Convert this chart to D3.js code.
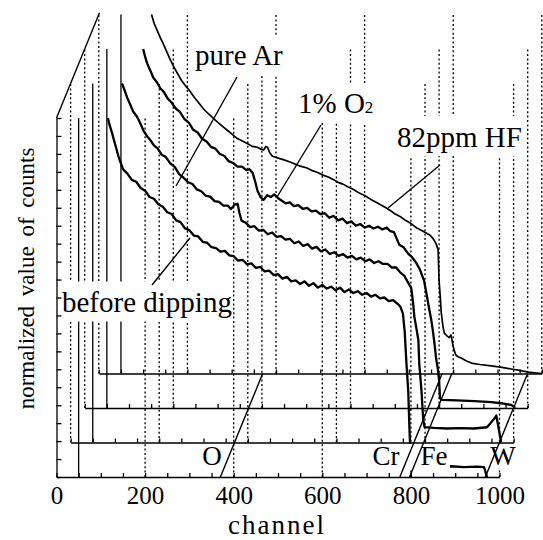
<!DOCTYPE html>
<html>
<head>
<meta charset="utf-8">
<script src="https://cdn.jsdelivr.net/npm/d3@7"></script>
<style>
  body { margin: 0; background: #fff; }
  text { font-family: "Liberation Serif", "Times New Roman", serif; fill: #000; }
</style>
</head>
<body>
<div id="chart"></div>
<script>
// Stacked RBS spectra, drawn as a waterfall of 4 offset frames

const width = 543;
const height = 540;

// tick / grid channels
const channelTicks = [0, 200, 400, 600, 800, 1000];
const gridChannels = [0, 200, 400, 600, 800, 1000];
const minorChannels = d3.range(0, 1001, 50);
const markerChannel = 50;

// element edges (channel)
const elementNames = ["O", "Cr", "Fe", "W"];
const elementChannels = [370, 775, 797, 968];

// spectra: [channel, normalized counts], front to back
const beforeDipping = [
  [116,20.0],[120,19.6],[125,19.2],[130,18.75],[135,18.3],[140,17.85],[145,17.5],[150,17.15],
  [160,16.9],[170,16.55],[180,16.45],[190,16.1],[200,15.95],[210,15.6],[220,15.5],[230,15.2],
  [240,15.05],[250,14.75],[260,14.65],[270,14.3],[280,14.2],[290,13.85],[300,13.75],[310,13.45],
  [320,13.4],[330,13.1],[340,13.05],[350,12.8],[360,12.75],[370,12.55],[380,12.6],[390,12.35],
  [400,12.3],[410,12.05],[420,12.1],[430,11.85],[440,11.9],[450,11.65],[460,11.7],[470,11.45],
  [480,11.5],[490,11.25],[500,11.3],[510,11.05],[520,11.15],[530,10.9],[540,10.95],[550,10.75],
  [560,10.9],[570,10.65],[580,10.8],[590,10.55],[600,10.7],[610,10.5],[620,10.6],[630,10.4],
  [640,10.55],[650,10.3],[660,10.45],[670,10.25],[680,10.35],[690,10.15],[700,10.25],[710,10.05],
  [720,10.15],[730,9.95],[740,10.0],[750,9.8],[760,9.85],[770,9.65],[776,9.5],[782,9.1],
  [786,8.1],[790,6.3],[794,4.8],[797,2.5],[800,0.8],[805,0.55],[830,0.6],[860,0.55],
  [890,0.6],[920,0.55],[950,0.58],[965,0.55],[972,0.0]
];

const pureAr = [
  [116,20.0],[120,19.75],[128,19.2],[135,18.8],[141,18.45],[150,18.15],[157,17.8],[165,17.35],
  [173,17.05],[180,16.85],[188,16.55],[196,16.4],[205,16.05],[215,15.9],[225,15.55],[235,15.35],
  [245,14.95],[255,14.75],[265,14.5],[275,14.4],[285,14.1],[295,14.0],[305,13.75],[315,13.7],
  [325,13.45],[335,13.4],[345,13.2],[355,13.2],[362,13.0],[370,13.25],[377,13.3],[381,12.8],
  [386,12.35],[395,12.25],[405,12.0],[415,12.05],[425,11.8],[435,11.85],[445,11.6],[455,11.7],
  [465,11.45],[475,11.5],[485,11.3],[495,11.35],[505,11.1],[515,11.2],[525,10.95],[535,11.05],
  [545,10.8],[555,10.9],[565,10.65],[575,10.75],[585,10.5],[595,10.6],[605,10.4],[615,10.5],
  [625,10.3],[635,10.4],[645,10.2],[655,10.3],[665,10.1],[675,10.2],[685,10.0],[695,10.1],
  [705,9.95],[715,9.95],[725,9.75],[735,9.75],[745,9.45],[753,9.3],[761,8.95],[769,8.6],
  [773,7.8],[776,7.0],[781,6.3],[785,5.7],[787,4.4],[792,2.9],[796,1.25],[799,0.86],
  [820,0.82],[850,0.78],[880,0.8],[910,0.78],[940,0.85],[950,1.14],[957,1.35],[961,1.5],[972,0.0]
];

const oxygen1 = [
  [132,20.0],[136,19.6],[141,19.2],[148,18.8],[155,18.4],[163,18.15],[171,17.8],[179,17.6],
  [187,17.25],[195,17.05],[205,16.7],[215,16.5],[225,16.1],[235,15.9],[245,15.5],[255,15.35],
  [265,15.0],[275,14.85],[285,14.55],[295,14.45],[305,14.15],[315,14.05],[325,13.75],[335,13.65],
  [345,13.45],[355,13.45],[365,13.25],[372,13.3],[379,13.1],[385,12.6],[390,12.1],[397,11.75],
  [404,11.6],[412,11.85],[420,11.75],[428,11.9],[436,11.7],[445,11.55],[454,11.4],[463,11.45],
  [472,11.25],[482,11.3],[492,11.1],[502,11.15],[512,10.95],[522,11.0],[532,10.8],[542,10.85],
  [552,10.6],[562,10.7],[572,10.45],[582,10.55],[592,10.3],[602,10.4],[612,10.15],[622,10.25],
  [632,10.05],[642,10.15],[652,10.0],[662,10.1],[672,9.95],[682,10.05],[690,9.85],[698,9.8],
  [704,9.45],[710,9.1],[720,8.95],[730,8.6],[739,8.4],[748,8.1],[757,7.7],[766,7.1],
  [772,6.3],[777,5.6],[782,4.95],[786,4.3],[790,3.5],[793,2.8],[797,2.2],[800,1.56],
  [802,0.56],[806,0.45],[840,0.42],[880,0.38],[918,0.33],[945,0.25],[963,0.17],[972,0.0]
];

const hf82 = [
  [119,20.0],[125,19.5],[132,19.1],[139,18.7],[145,18.4],[153,17.95],[161,17.5],[170,17.05],
  [178,16.7],[186,16.35],[195,16.05],[205,15.75],[215,15.4],[225,15.1],[236,14.75],[246,14.5],
  [257,14.25],[268,14.0],[280,13.75],[290,13.55],[300,13.35],[312,13.1],[324,12.95],[336,12.8],
  [347,12.65],[358,12.6],[366,12.5],[372,12.45],[377,12.65],[381,12.6],[386,12.3],[392,12.1],
  [405,12.0],[418,11.9],[430,11.8],[440,11.7],[455,11.55],[470,11.45],[482,11.3],[494,11.2],
  [506,11.05],[518,10.95],[530,10.8],[540,10.65],[551,10.55],[562,10.4],[575,10.25],[588,10.05],
  [601,9.9],[614,9.7],[625,9.55],[636,9.4],[647,9.25],[657,9.1],[668,8.9],[680,8.75],
  [691,8.55],[702,8.4],[710,8.25],[718,8.1],[730,7.95],[741,7.8],[748,7.7],[755,7.5],
  [761,7.25],[766,6.9],[768,5.2],[771,4.2],[773,3.4],[777,2.6],[780,2.25],[786,2.1],
  [791,2.0],[795,2.15],[797,1.9],[800,1.5],[804,1.15],[807,1.0],[812,0.92],[818,0.86],
  [830,0.7],[841,0.58],[860,0.5],[886,0.42],[910,0.34],[931,0.25],[950,0.17],[969,0.08],[999,0.0]
];

const spectra = [beforeDipping, pureAr, oxygen1, hf82];
const lineWidths = [2.3, 2.3, 2.3, 1.7];

// frame geometry
const frameDx = 14.1;   // shift right per frame
const frameDy = -34.5;  // shift up per frame

const serif = '"Liberation Serif", "Times New Roman", serif';

const svg = d3.select("#chart")
  .append("svg")
  .attr("width", width)
  .attr("height", height);

// scales for the front frame (other frames are translated copies)
const x = d3.scaleLinear().domain([0, 1000]).range([56.5, 499.5]);
const y = d3.scaleLinear().domain([0, 20]).range([477, 118]);

const frames = svg.selectAll(".frame")
  .data(spectra)
  .enter()
  .append("g")
    .attr("class", "frame")
    .attr("transform", (d, i) => `translate(${i * frameDx},${i * frameDy})`);

/* grid lines */

// dotted channel grid, frame 0 uses the solid y axis at channel 0
frames.each(function(d, i) {
  const g = d3.select(this);
  g.selectAll(".grid")
    .data(gridChannels.filter(c => !(i === 0 && c === 0)))
    .enter()
    .append("line")
      .attr("class", "grid")
      .attr("x1", c => x(c)).attr("x2", c => x(c))
      .attr("y1", y(0)).attr("y2", y(20))
      .attr("stroke", "#000")
      .attr("stroke-width", 1.3)
      .attr("stroke-dasharray", "2,2.4");
  // solid marker line
  g.append("line")
    .attr("x1", x(markerChannel)).attr("x2", x(markerChannel))
    .attr("y1", y(0)).attr("y2", y(20))
    .attr("stroke", "#000")
    .attr("stroke-width", 1.3);
});

/* labels (white boxes hide the grid behind them) */

const labels = svg.append("g");

function addLabel(parts, lx, ly, size, pad) {
  const t = labels.append("text")
    .attr("x", lx).attr("y", ly)
    .style("font-family", serif)
    .attr("font-size", size + "px");
  parts.forEach(p => {
    t.append("tspan").attr("font-size", (p.size || size) + "px").text(p.text);
  });
  const b = t.node().getBBox();
  labels.insert("rect", "text")
    .attr("x", b.x - pad[0]).attr("y", b.y - pad[1])
    .attr("width", b.width + pad[0] * 2)
    .attr("height", b.height + pad[1] + pad[2])
    .attr("fill", "#fff");
  return t;
}

addLabel([{text: "pure Ar"}], 195, 65, 29, [3, 4, 4]);
addLabel([{text: "1% O"}, {text: "2", size: 17}], 298, 113, 29, [3, 4, 4]);
addLabel([{text: "82ppm HF"}], 397, 147, 29, [3, 5, 3]);
addLabel([{text: "before dipping"}], 62, 311.5, 29, [0, 4, 4]);

// element labels
const elementLabelX = [212, 386, 434, 503];
elementNames.forEach((name, i) => {
  labels.append("text")
    .attr("x", elementLabelX[i]).attr("y", 465)
    .attr("text-anchor", "middle")
    .style("font-family", serif)
    .attr("font-size", "27px")
    .text(name);
});
// boxes behind Cr/Fe and W
labels.insert("rect", "text")
  .attr("x", 370).attr("y", y(0) + frameDy + 1.5).attr("width", 80).attr("height", 26)
  .attr("fill", "#fff");
labels.insert("rect", "text")
  .attr("x", 490).attr("y", y(0) + frameDy + 1.5).attr("width", 26).attr("height", 24)
  .attr("fill", "#fff");

/* axes */

frames.each(function(d, i) {
  const g = d3.select(this);
  // baseline with small upward ticks every 50 channels
  g.append("g")
    .attr("transform", `translate(0,${y(0)})`)
    .call(d3.axisTop(x).tickValues(minorChannels).tickSize(4).tickSizeOuter(0).tickFormat(""))
    .call(a => a.selectAll("path, line").attr("stroke", "#000").attr("stroke-width", 1.3));
});

// channel tick labels on the front frame
svg.append("g")
  .attr("transform", `translate(0,${y(0)})`)
  .call(d3.axisBottom(x).tickValues(channelTicks).tickSize(0).tickPadding(9)
    .tickFormat(d3.format("d")))
  .call(a => a.select(".domain").remove())
  .call(a => a.selectAll("text")
    .style("font-family", serif)
    .attr("font-size", "25px")
    .attr("fill", "#000"));

// left axis of the front frame, ticks pointing inwards
svg.append("g")
  .attr("transform", `translate(${x(0)},0)`)
  .call(d3.axisRight(y).ticks(20).tickSize(5).tickSizeOuter(0).tickFormat(""))
  .call(a => a.selectAll("path, line").attr("stroke", "#000").attr("stroke-width", 1.3));

// depth edge at the top left
svg.append("line")
  .attr("x1", x(0)).attr("y1", y(20))
  .attr("x2", x(0) + 3.05 * frameDx).attr("y2", y(20) + 3.05 * frameDy)
  .attr("stroke", "#000").attr("stroke-width", 1.4);

/* spectra */

const line = d3.line()
  .x(d => x(d[0]))
  .y(d => y(d[1]));

frames.append("path")
  .attr("d", d => line(d))
  .attr("fill", "none")
  .attr("stroke", "#000")
  .attr("stroke-width", (d, i) => lineWidths[i])
  .attr("stroke-linejoin", "round");

/* element edges across the frames */

svg.selectAll(".edge")
  .data(elementChannels)
  .enter()
  .append("line")
    .attr("class", "edge")
    .attr("x1", c => x(c)).attr("y1", y(0))
    .attr("x2", c => x(c) + 3 * frameDx).attr("y2", y(0) + 3 * frameDy)
    .attr("stroke", "#000").attr("stroke-width", 1.4);

/* leader lines */

const leaders = [
  [[237, 77], [176, 186]],
  [[321, 125], [277, 197]],
  [[440, 165], [388, 208]],
  [[190, 238], [152, 285]]
];
svg.selectAll(".leader")
  .data(leaders)
  .enter()
  .append("line")
    .attr("class", "leader")
    .attr("x1", d => d[0][0]).attr("y1", d => d[0][1])
    .attr("x2", d => d[1][0]).attr("y2", d => d[1][1])
    .attr("stroke", "#000").attr("stroke-width", 1.4);

/* axis titles */

svg.append("text")
  .attr("x", 277).attr("y", 534)
  .attr("text-anchor", "middle")
  .style("font-family", serif)
  .attr("font-size", "27px")
  .style("letter-spacing", "2px")
  .text("channel");

svg.append("text")
  .attr("transform", "translate(34,278.5) rotate(-90)")
  .attr("text-anchor", "middle")
  .style("font-family", serif)
  .attr("font-size", "23px")
  .style("word-spacing", "4px")
  .text("normalized value of counts");
</script>
</body>
</html>
